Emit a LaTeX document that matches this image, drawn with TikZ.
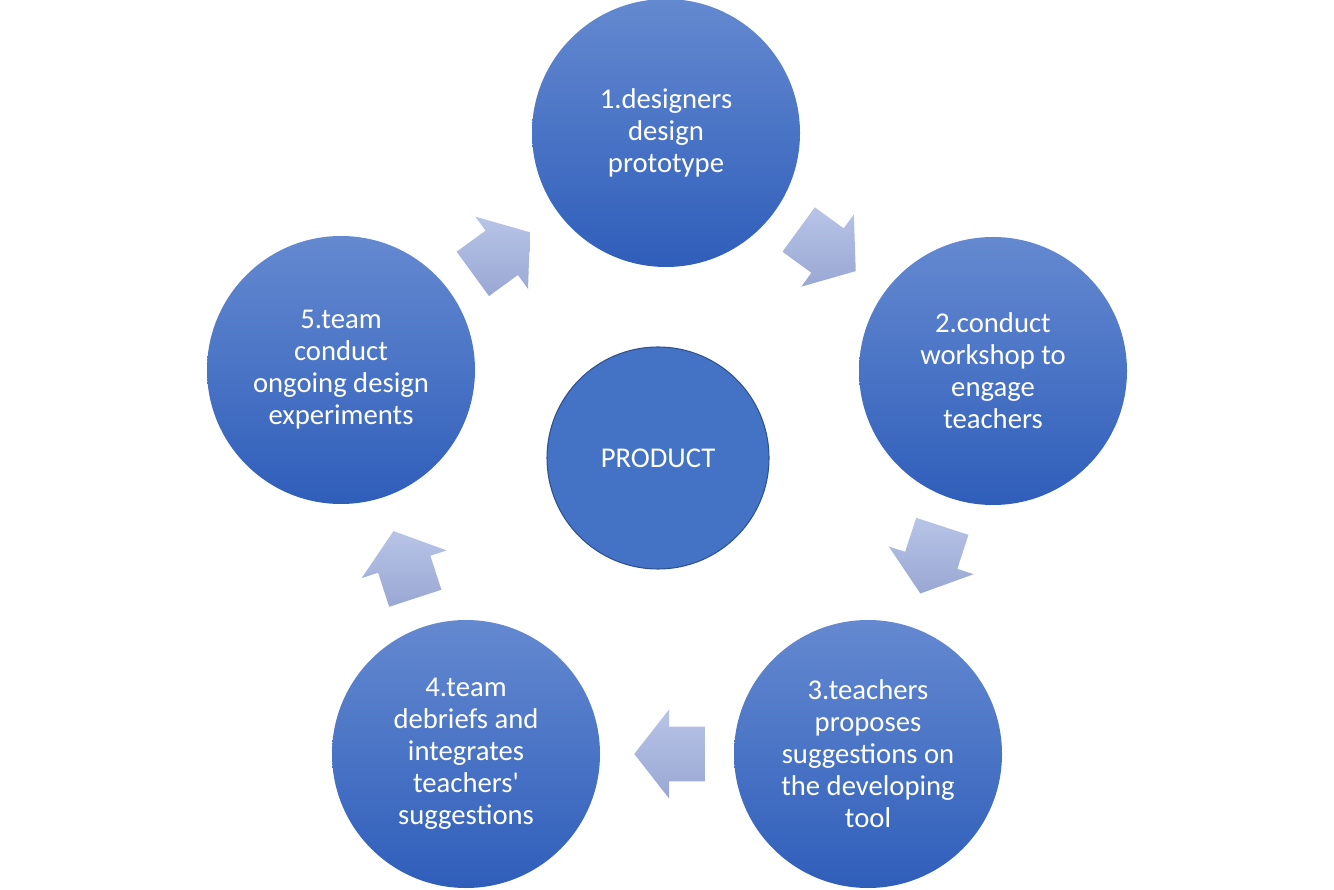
\documentclass[tikz,border=0pt]{standalone}
\usepackage{fontspec}
\setmainfont{Carlito}
\usetikzlibrary{shapes.arrows,positioning}
\definecolor{circtop}{HTML}{6489D0}
\definecolor{circbot}{HTML}{2F5EBA}
\definecolor{prodfill}{HTML}{4472C4}
\definecolor{prodline}{HTML}{2F528F}
\definecolor{arrtop}{HTML}{B8C4E7}
\definecolor{arrbot}{HTML}{99A7D3}

\begin{document}
\begin{tikzpicture}[
            x=0.75pt, y=0.75pt,
            stage/.style={circle, minimum size=201pt, inner sep=0pt, top color=circtop, bottom color=circbot, draw=none, text=white, align=center, font=\fontsize{21.5}{24}\selectfont},
            product/.style={circle, minimum size=166.5pt, inner sep=0pt, fill=prodfill, draw=prodline, line width=0.8pt, text=white, font=\fontsize{21.5}{24}\selectfont},
            blockarrow/.style={single arrow, draw=none, top color=arrtop, bottom color=arrbot, minimum height=53pt, minimum width=66.6pt, inner xsep=0pt, inner ysep=20.4pt, single arrow head extend=12.9pt, single arrow tip angle=104, sloped, allow upside down, pos=0.40}
        ]
            \useasboundingbox (0,0) rectangle (1334,889);

            % Stages of the cycle
            \node[stage] (designers) at (666,756) {1.designers\\design\\prototype};
            \node[stage] (workshop) at (993,518) {2.conduct\\workshop to\\engage\\teachers};
            \node[stage] (proposals) at (868,135) {3.teachers\\proposes\\suggestions on\\the developing\\tool};
            \node[stage] (debrief) at (466,135) {4.team\\debriefs and\\integrates\\teachers\textquotesingle\\suggestions};
            \node[stage] (experiments) at (341,519) {5.team\\conduct\\ongoing design\\experiments};

            % Centre
            \node[product] (product) at (658,431) {PRODUCT};

            % Arrows
            \path (designers) -- (workshop) node[blockarrow] {};
            \path (workshop) -- (proposals) node[blockarrow] {};
            \path (proposals) -- (debrief) node[blockarrow] {};
            \path (debrief) -- (experiments) node[blockarrow] {};
            \path (experiments) -- (designers) node[blockarrow] {};

        \end{tikzpicture}
\end{document}
